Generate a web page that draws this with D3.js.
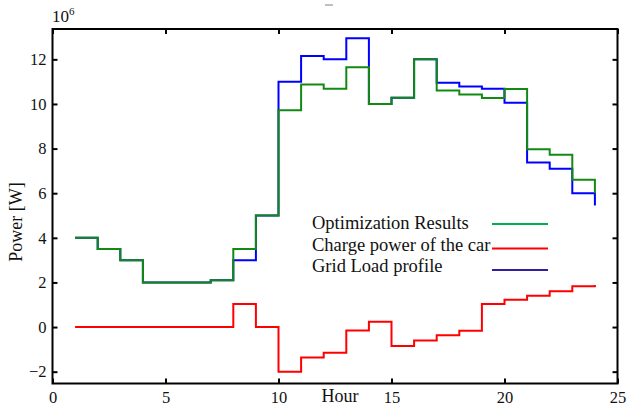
<!DOCTYPE html>
<html>
<head>
<meta charset="utf-8">
<script src="https://cdn.jsdelivr.net/npm/d3@7"></script>
<style>
  body { margin: 0; background: #fff; }
  svg text { font-family: "Liberation Serif", "Times New Roman", serif; fill: #111; }
</style>
</head>
<body>
<svg id="chart"></svg>
<script>
// data (values in 10^6 W)
let hours = [1, 2, 3, 4, 5, 6, 7, 8, 9, 10, 11, 12, 13, 14, 15, 16, 17, 18, 19, 20, 21, 22, 23, 24];
let gridLoad = [4, 3.5, 3, 2, 2, 2, 2.1, 3, 5, 11, 12.15, 12, 12.95, 10, 10.28, 12, 10.95, 10.78, 10.68, 10.05, 7.38, 7.1, 6.0, 5.45];
let optResult = [4, 3.5, 3, 2, 2, 2, 2.1, 3.5, 5, 9.72, 10.87, 10.68, 11.65, 10, 10.28, 12, 10.6, 10.42, 10.27, 10.67, 7.97, 7.72, 6.6, 6.0];
let carPower = [0, 0, 0, 0, 0, 0, 0, 1.03, 0, -2, -1.37, -1.15, -0.15, 0.24, -0.85, -0.6, -0.37, -0.16, 1.03, 1.22, 1.4, 1.6, 1.83, 1.88];

let xTicks = [0, 5, 10, 15, 20, 25];
let yTicks = [-2, 0, 2, 4, 6, 8, 10, 12];
let legendNames = ["Optimization Results", "Charge power of the car", "Grid Load profile"];

//svg dimensions
const w = 627;
const h = 407;
const padL = 52.5, padR = 617.5, padT = 29, padB = 383.5;

let svg = d3.select("#chart").attr("width", w).attr("height", h);

let xScale = d3.scaleLinear().domain([0, 25]).range([padL, padR]);
let yScale = d3.scaleLinear().domain([-2.53, 13.36]).range([padB, padT]);

// axes, ticks pointing inwards
let xAxis = d3.axisBottom(xScale).tickValues(xTicks).tickSize(-5).tickPadding(8).tickSizeOuter(0);
let xTop = d3.axisTop(xScale).tickValues(xTicks).tickSize(-5).tickFormat("").tickSizeOuter(0);
let yAxis = d3.axisLeft(yScale).tickValues(yTicks).tickSize(-5).tickPadding(6).tickSizeOuter(0);
let yRight = d3.axisRight(yScale).tickValues(yTicks).tickSize(-5).tickFormat("").tickSizeOuter(0);

function styleAxis(g) {
  g.select(".domain").remove();
  g.selectAll(".tick line").attr("stroke", "#000").attr("stroke-width", 2);
  g.selectAll(".tick text").attr("font-size", 16.5).attr("fill", "#111");
}

svg.append("g").attr("transform", "translate(0," + padB + ")").call(xAxis).call(styleAxis);
svg.append("g").attr("transform", "translate(0," + padT + ")").call(xTop).call(styleAxis);
svg.append("g").attr("transform", "translate(" + padL + ",0)").call(yAxis).call(styleAxis);
svg.append("g").attr("transform", "translate(" + padR + ",0)").call(yRight).call(styleAxis);

// stair lines
let stair = (vals) => d3.line()
  .x((d, i) => xScale(hours[i]))
  .y(d => yScale(d))
  .curve(d3.curveStepAfter)(vals);

svg.append("path").attr("d", stair(gridLoad)).attr("fill", "none").attr("stroke", "#0000ff").attr("stroke-width", 2);
svg.append("path").attr("d", stair(optResult)).attr("fill", "none").attr("stroke", "#128a12").attr("stroke-width", 2);
svg.append("path").attr("d", stair(carPower)).attr("fill", "none").attr("stroke", "#ff0000").attr("stroke-width", 2);

// frame
svg.append("rect")
  .attr("x", padL).attr("y", padT)
  .attr("width", padR - padL).attr("height", padB - padT)
  .attr("fill", "none").attr("stroke", "#000").attr("stroke-width", 2);

// labels
let expLabel = svg.append("text").attr("x", 52).attr("y", 22).attr("font-size", 17);
expLabel.append("tspan").text("10");
expLabel.append("tspan").attr("font-size", 11).attr("dy", -7).text("6");

svg.append("text").attr("x", 340).attr("y", 402).attr("text-anchor", "middle").attr("font-size", 18).text("Hour");

svg.append("text")
  .attr("transform", "translate(22,222) rotate(-90)")
  .attr("text-anchor", "middle").attr("font-size", 18).text("Power [W]");

// small grey mark at the top (cut off title)
svg.append("line").attr("x1", 325).attr("x2", 333).attr("y1", 5).attr("y2", 5)
  .attr("stroke", "#aaa").attr("stroke-width", 1.5);

// legend
let legendColors = ["#00b050", "#ff0000", "#3020a0"];
let legendTextY = [229, 251, 272];
let legendLineY = [224, 248.5, 270];
legendNames.forEach((name, i) => {
  svg.append("text").attr("x", 312).attr("y", legendTextY[i]).attr("font-size", 18.5).text(name);
  svg.append("line").attr("x1", 492).attr("x2", 548)
    .attr("y1", legendLineY[i]).attr("y2", legendLineY[i])
    .attr("stroke", legendColors[i]).attr("stroke-width", 2);
});
</script>
</body>
</html>
